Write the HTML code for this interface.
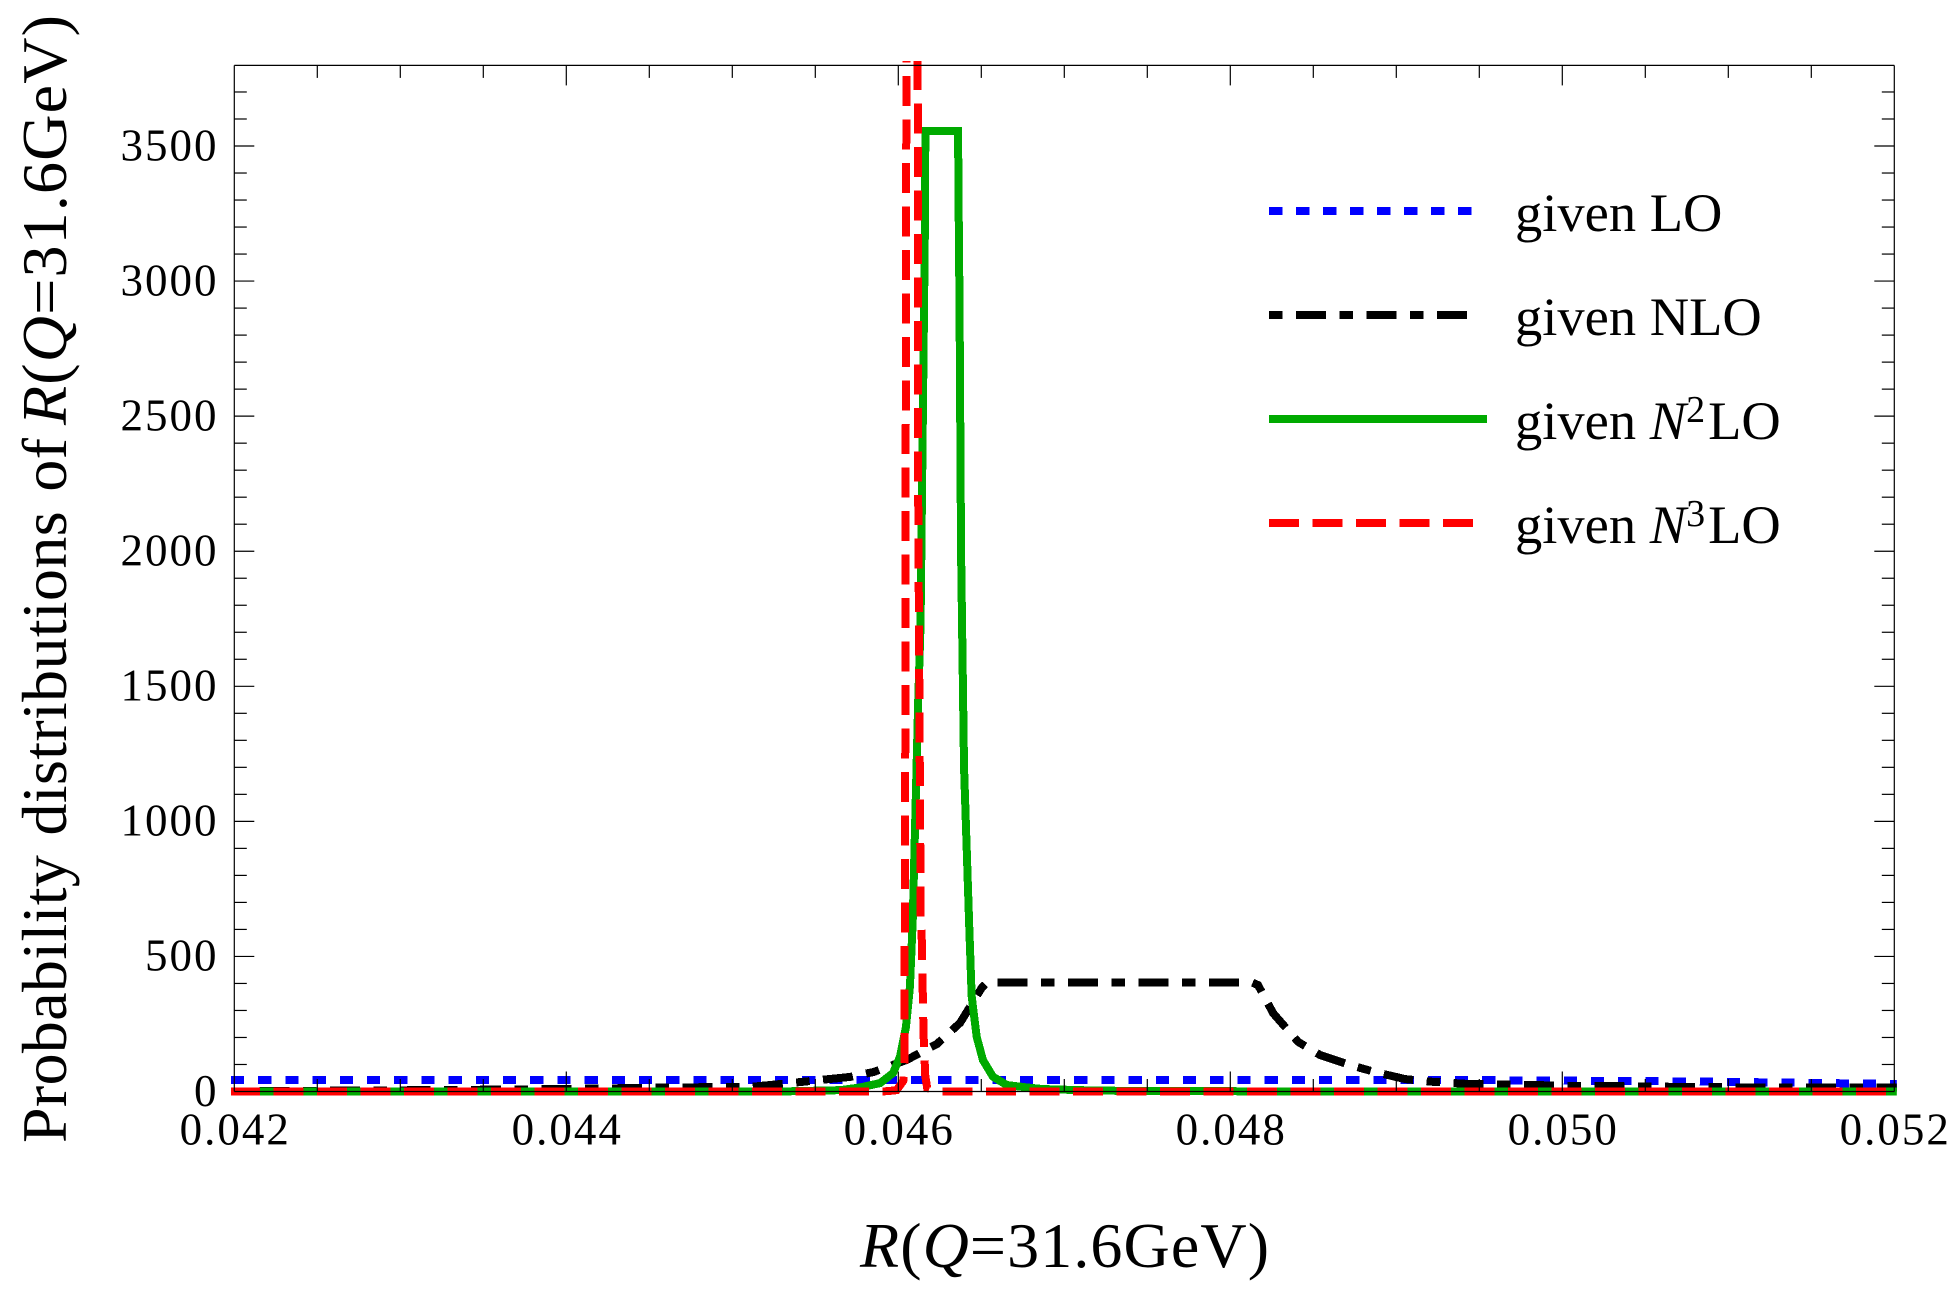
<!DOCTYPE html>
<html lang="en">
<head>
<meta charset="utf-8">
<title>Probability distributions of R(Q=31.6GeV)</title>
<style>
  html,body{margin:0;padding:0;background:#fff;}
  svg{display:block;}
  text{font-family:"Liberation Serif","Times New Roman",serif;fill:#000;}
  .tick-label{font-size:45px;letter-spacing:2px;}
  .axis-title{font-size:64px;}
  .legend-text{font-size:54.5px;}
  .it{font-style:italic;}
</style>
</head>
<body>
<svg id="chart" xmlns="http://www.w3.org/2000/svg" width="1959" height="1296" viewBox="0 0 1959 1296">
  <defs>
    <clipPath id="plot-clip"><rect x="230.8" y="61" width="1666" height="1040"/></clipPath>
  </defs>
  <rect x="0" y="0" width="1959" height="1296" fill="#fff"/>
  <g id="series" clip-path="url(#plot-clip)"></g>
  <g id="frame"></g>
  <g id="labels"></g>

  <text class="axis-title" x="860" y="1267" textLength="409" lengthAdjust="spacing"><tspan class="it">R</tspan>(<tspan class="it">Q</tspan>=31.6GeV)</text>
  <g>
    <text class="axis-title" transform="translate(66,1143) rotate(-90)" x="0" y="0" word-spacing="3" textLength="705" lengthAdjust="spacing">Probability distributions of</text>
    <text class="axis-title" transform="translate(66,425) rotate(-90)" x="0" y="0" textLength="410" lengthAdjust="spacing"><tspan class="it">R</tspan>(<tspan class="it">Q</tspan>=31.6GeV)</text>
  </g>

  <g>
    <line x1="1269" y1="211" x2="1473" y2="211" stroke="#0000ff" stroke-width="8" stroke-dasharray="13.5 13.5" shape-rendering="crispEdges"/>
    <text class="legend-text" x="1515" y="231">given LO</text>
    <line x1="1269" y1="315" x2="1469" y2="315" stroke="#000" stroke-width="8" stroke-dasharray="13.5 13.5 30 13.5" shape-rendering="crispEdges"/>
    <text class="legend-text" x="1515" y="335">given NLO</text>
    <line x1="1269" y1="419" x2="1487" y2="419" stroke="#00aa00" stroke-width="8" shape-rendering="crispEdges"/>
    <text class="legend-text" x="1515" y="439">given <tspan class="it">N</tspan><tspan font-size="38" dy="-17">2</tspan><tspan dy="17" dx="3">LO</tspan></text>
    <line x1="1269" y1="523" x2="1473" y2="523" stroke="#ff0000" stroke-width="8" stroke-dasharray="30 13.5" shape-rendering="crispEdges"/>
    <text class="legend-text" x="1515" y="543">given <tspan class="it">N</tspan><tspan font-size="38" dy="-17">3</tspan><tspan dy="17" dx="3">LO</tspan></text>
  </g>
</svg>
<script>
// ---- chart data ----
const xTickLabels = ["0.042","0.044","0.046","0.048","0.050","0.052"];
const yTickLabels = ["0","500","1000","1500","2000","2500","3000","3500"];

const loX = [0.04198,0.046,0.0495,0.05085,0.05133,0.05202];
const loY = [42.5,43,42,37,33,28];

const nloX = [0.04198,0.04314,0.0436,0.0442,0.04462,0.04511,0.04541,0.04571,0.04585,0.046051,0.046233,0.046372,0.046502,0.046533,0.048129,0.048167,0.048258,0.048408,0.048541,0.048721,0.048872,0.049053,0.049216,0.049433,0.049644,0.049837,0.050078,0.050288,0.050722,0.051174,0.05202];
const nloY = [0.5,5,7,11,15,17,35,54,72,117,176,254,383,404,404,394,290,184,135,98,72,46,36,28,26,24,20,20,17,15,14];

const n2loX = [0.04198,0.04529,0.04565,0.045769,0.04589,0.045968,0.04601,0.046046,0.04607,0.046087,0.04612,0.046134,0.046149,0.04616,0.046163,0.04636,0.046363,0.046369,0.046378,0.046396,0.046426,0.046442,0.046472,0.04651,0.04657,0.046653,0.046774,0.046872,0.04721,0.0484,0.05202];
const n2loY = [0,0,5,15,31,68,128,239,387,635,1449,1727,2560,3189,3555,3555,3300,2900,2000,1200,635,353,203,116,55,24,15,9,3,0,0];

const n3loX = [0.04198,0.04583,0.045932,0.04599,0.04603,0.046037,0.046043,0.046046,0.04605,0.046112,0.046117,0.046118,0.04612,0.046127,0.046135,0.046141,0.046152,0.046162,0.046174,0.04625,0.05202];
const n3loY = [0,0,1,5,39,109,1500,3000,4036,4036,3800,3226,2190,1449,635,572,216,61,13,0,0];

// ---- axis geometry ----
const plotLeft = 234.3, plotRight = 1894.3, plotTop = 65.4, plotBottom = 1091.5;
const xMin = 0.042, xMax = 0.052;
const pxPerUnitY = 0.27014;
const xScale = v => plotLeft + (v - xMin) / (xMax - xMin) * (plotRight - plotLeft);
const yScale = v => plotBottom - v * pxPerUnitY;

const SVGNS = "http://www.w3.org/2000/svg";
const seriesGroup = document.getElementById("series");
const frameGroup = document.getElementById("frame");
const labelGroup = document.getElementById("labels");

function drawSeries(name, xs, ys, color, dash, offset) {
  const p = document.createElementNS(SVGNS, "path");
  
  
  p.setAttribute("d", xs.map((x, i) => (i ? "L" : "M") + xScale(x).toFixed(2) + " " + yScale(ys[i]).toFixed(2)).join(" "));
  p.setAttribute("fill", "none");
  p.setAttribute("stroke", color);
  p.setAttribute("stroke-width", "8");
  p.setAttribute("stroke-linejoin", "miter");
  p.setAttribute("shape-rendering", "crispEdges");
  if (dash) p.setAttribute("stroke-dasharray", dash);
  if (offset) p.setAttribute("stroke-dashoffset", offset);
  seriesGroup.appendChild(p);
}
drawSeries("series-given-lo", loX, loY, "#0000ff", "13.2 14", 0);
drawSeries("series-given-nlo", nloX, nloY, "#000000", "13.5 13.5 30 13.5", -1.4);
drawSeries("series-given-n2lo", n2loX, n2loY, "#00aa00", null, 0);
drawSeries("series-given-n3lo", n3loX, n3loY, "#ff0000", "30 13.5", 1.1);

function addLine(name, x1, y1, x2, y2) {
  const l = document.createElementNS(SVGNS, "line");
  
  
  l.setAttribute("x1", x1); l.setAttribute("y1", y1);
  l.setAttribute("x2", x2); l.setAttribute("y2", y2);
  l.setAttribute("stroke", "#000");
  l.setAttribute("stroke-width", "1.2");
  frameGroup.appendChild(l);
}
addLine("frame-left", plotLeft, plotTop, plotLeft, plotBottom);
addLine("frame-right", plotRight, plotTop, plotRight, plotBottom);
addLine("frame-top", plotLeft, plotTop, plotRight, plotTop);
addLine("frame-bottom", plotLeft, plotBottom, plotRight, plotBottom);

const majorLen = 20, minorLen = 12.5;
// x ticks: a minor tick every quarter of a major interval
const xMajorCount = xTickLabels.length - 1;
for (let i = 0; i <= xMajorCount * 4; i++) {
  const px = xScale(xMin + (xMax - xMin) * i / (xMajorCount * 4));
  const len = i % 4 === 0 ? majorLen : minorLen;
  if (i > 0 && i < xMajorCount * 4) {
    addLine("x-tick-bottom", px, plotBottom, px, plotBottom - len);
    addLine("x-tick-top", px, plotTop, px, plotTop + len);
  }
}
// y ticks: every 100, major every 500
for (let v = 100; yScale(v) > plotTop; v += 100) {
  const py = yScale(v);
  const len = v % 500 === 0 ? majorLen : minorLen;
  addLine("y-tick-left", plotLeft, py, plotLeft + len, py);
  addLine("y-tick-right", plotRight, py, plotRight - len, py);
}

function addLabel(name, text, x, y, anchor) {
  const t = document.createElementNS(SVGNS, "text");
  
  
  t.setAttribute("class", "tick-label");
  t.setAttribute("x", x);
  t.setAttribute("y", y);
  t.setAttribute("text-anchor", anchor);
  t.textContent = text;
  labelGroup.appendChild(t);
}
xTickLabels.forEach(s => addLabel("x-tick-label", s, xScale(parseFloat(s)) + 1, 1144.3, "middle"));
yTickLabels.forEach(s => addLabel("y-tick-label", s, 218.5, yScale(parseFloat(s)) + 14.3, "end"));
</script>
</body>
</html>
